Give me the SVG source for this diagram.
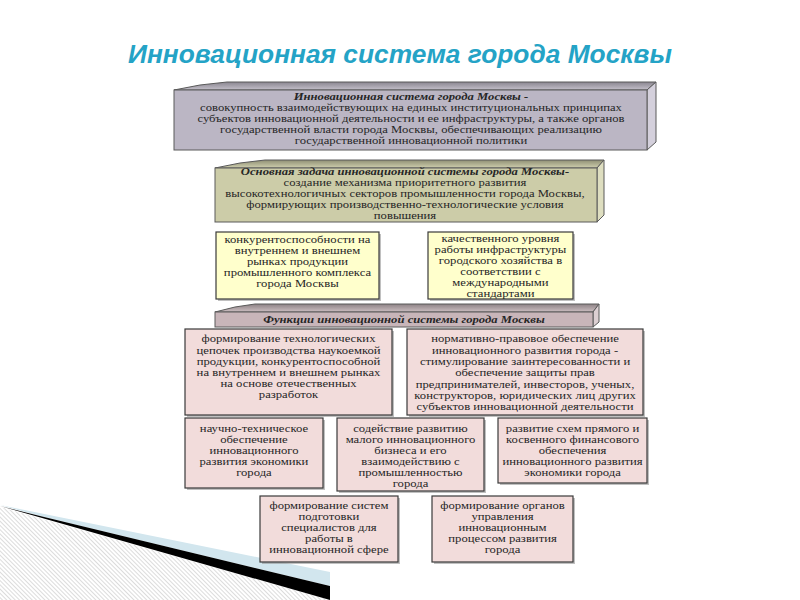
<svg xmlns="http://www.w3.org/2000/svg" width="800" height="600" viewBox="0 0 800 600">
<defs>
<style>
.t{font-family:"Liberation Serif","Times New Roman",Times,"DejaVu Serif",serif;font-size:9.9px;fill:#262626;text-anchor:middle}
.b{font-weight:bold;font-style:italic}
.edge{stroke:#5a5a5a;stroke-width:1}
.box{stroke:#3a3a3a;stroke-width:1.2}
.sh{fill:#8c8c8c;opacity:.55}
.yel{fill:#FFFFCC}
.pink{fill:#F2DCDB}
</style>
<pattern id="hatch" patternUnits="userSpaceOnUse" width="3" height="3" patternTransform="rotate(-45)">
<rect width="3" height="3" fill="#ffffff"/>
<rect width="1" height="3" fill="#dcdcdc"/>
</pattern>
<linearGradient id="gTop1" x1="0" y1="0" x2="0" y2="1"><stop offset="0" stop-color="#8a8690"/><stop offset="1" stop-color="#c4c0ca"/></linearGradient>
<linearGradient id="gTop2" x1="0" y1="0" x2="0" y2="1"><stop offset="0" stop-color="#8f8f74"/><stop offset="1" stop-color="#cfcfae"/></linearGradient>
<linearGradient id="gTop4" x1="0" y1="0" x2="0" y2="1"><stop offset="0" stop-color="#8d8285"/><stop offset="1" stop-color="#cdbfc2"/></linearGradient>
</defs>
<rect width="800" height="600" fill="#ffffff"/>

<g id="corner">
<polygon points="0,507 330,600 0,600" fill="url(#hatch)"/>
<polygon points="0,505 330,572 330,586 40,516" fill="#d2e6ee"/>
<polygon points="0,506 40,516 330,586 330,600" fill="#000000"/>
</g>

<text x="400" y="63" font-family="'Liberation Sans',Arial,sans-serif" font-size="25" font-weight="bold" font-style="italic" fill="#24A3C6" text-anchor="middle" textLength="544" lengthAdjust="spacingAndGlyphs">Инновационная система города Москвы</text>

<g id="connectors"/>

<g id="definition">
<polygon points="174,90 200,85 227,82 656,82 647,90" fill="url(#gTop1)" class="edge"/>
<polygon points="647,90 656,82 656,142 647,150" fill="#d4d0dc" class="edge"/>
<rect x="174" y="90" width="473" height="60" fill="#BBB6C4" class="edge"/>
<g transform="scale(1.28,1)">
<text class="t b" x="321.1" y="100">Инновационная система города Москвы -</text>
<text class="t" x="321.1" y="111">совокупность взаимодействующих на единых институциональных принципах</text>
<text class="t" x="321.1" y="122">субъектов инновационной деятельности и ее инфраструктуры, а также органов</text>
<text class="t" x="321.1" y="133">государственной власти города Москвы, обеспечивающих реализацию</text>
<text class="t" x="321.1" y="144">государственной инновационной политики</text>
</g>
</g>

<g id="main-task">
<polygon points="215,168 240,163 265,160 604,160 597,168" fill="url(#gTop2)" class="edge"/>
<polygon points="597,168 604,160 604,215 597,222" fill="#dedec0" class="edge"/>
<rect x="215" y="168" width="382" height="54" fill="#CCCCA8" class="edge"/>
<g transform="scale(1.28,1)">
<text class="t b" x="316.4" y="175.5">Основная задача инновационной системы города Москвы-</text>
<text class="t" x="316.4" y="186.5">создание механизма приоритетного развития</text>
<text class="t" x="316.4" y="197.5">высокотехнологичных секторов промышленности города Москвы,</text>
<text class="t" x="316.4" y="208.5">формирующих производственно-технологические условия</text>
<text class="t" x="316.4" y="219.5">повышения</text>
</g>
</g>

<g id="competitiveness">
<rect x="218" y="234" width="163" height="67" class="sh"/>
<rect x="216" y="232" width="163" height="67" class="yel box"/>
<g transform="scale(1.28,1)">
<text class="t" x="232.4" y="243">конкурентоспособности на</text>
<text class="t" x="232.4" y="254">внутреннем и внешнем</text>
<text class="t" x="232.4" y="265">рынках продукции</text>
<text class="t" x="232.4" y="276">промышленного комплекса</text>
<text class="t" x="232.4" y="287">города Москвы</text>
</g>
</g>

<g id="quality">
<rect x="430" y="234" width="145" height="67" class="sh"/>
<rect x="428" y="232" width="145" height="67" class="yel box"/>
<g transform="scale(1.28,1)">
<text class="t" x="391" y="242">качественного уровня</text>
<text class="t" x="391" y="253">работы инфраструктуры</text>
<text class="t" x="391" y="264">городского хозяйства в</text>
<text class="t" x="391" y="275">соответствии с</text>
<text class="t" x="391" y="286">международными</text>
<text class="t" x="391" y="297">стандартами</text>
</g>
</g>

<g id="functions">
<polygon points="215,312 235,307 255,304 599,304 593,312" fill="url(#gTop4)" class="edge"/>
<polygon points="593,312 599,304 599,322 593,327" fill="#dccfd2" class="edge"/>
<rect x="215" y="312" width="378" height="15" fill="#C8B5B9" class="edge"/>
<g transform="scale(1.28,1)">
<text class="t b" x="315.6" y="323">Функции инновационной системы города Москвы</text>
</g>
</g>

<g id="f-chains">
<rect x="187" y="331" width="207" height="86" class="sh"/>
<rect x="185" y="329" width="207" height="86" class="pink box"/>
<g transform="scale(1.28,1)">
<text class="t" x="225.4" y="342.5">формирование технологических</text>
<text class="t" x="225.4" y="353.7">цепочек производства наукоемкой</text>
<text class="t" x="225.4" y="364.9">продукции, конкурентоспособной</text>
<text class="t" x="225.4" y="376.1">на внутреннем и внешнем рынках</text>
<text class="t" x="225.4" y="387.3">на основе отечественных</text>
<text class="t" x="225.4" y="398.5">разработок</text>
</g>
</g>

<g id="f-legal">
<rect x="409" y="331" width="236" height="86" class="sh"/>
<rect x="407" y="329" width="236" height="86" class="pink box"/>
<g transform="scale(1.28,1)">
<text class="t" x="410.2" y="342.5">нормативно-правовое обеспечение</text>
<text class="t" x="410.2" y="353.8">инновационного развития города -</text>
<text class="t" x="410.2" y="365.1">стимулирование заинтересованности и</text>
<text class="t" x="410.2" y="376.4">обеспечение защиты прав</text>
<text class="t" x="410.2" y="387.7">предпринимателей, инвесторов, ученых,</text>
<text class="t" x="410.2" y="399">конструкторов, юридических лиц других</text>
<text class="t" x="410.2" y="410.3">субъектов инновационной деятельности</text>
</g>
</g>

<g id="f-science">
<rect x="187" y="420" width="138" height="70" class="sh"/>
<rect x="185" y="418" width="138" height="70" class="pink box"/>
<g transform="scale(1.28,1)">
<text class="t" x="198.4" y="432">научно-техническое</text>
<text class="t" x="198.4" y="443">обеспечение</text>
<text class="t" x="198.4" y="454">инновационного</text>
<text class="t" x="198.4" y="465">развития экономики</text>
<text class="t" x="198.4" y="476">города</text>
</g>
</g>

<g id="f-business">
<rect x="339" y="420" width="147" height="73" class="sh"/>
<rect x="337" y="418" width="147" height="73" class="pink box"/>
<g transform="scale(1.28,1)">
<text class="t" x="320.7" y="432">содействие развитию</text>
<text class="t" x="320.7" y="443">малого инновационного</text>
<text class="t" x="320.7" y="454">бизнеса и его</text>
<text class="t" x="320.7" y="465">взаимодействию с</text>
<text class="t" x="320.7" y="476">промышленностью</text>
<text class="t" x="320.7" y="487">города</text>
</g>
</g>

<g id="f-finance">
<rect x="500" y="420" width="149" height="65" class="sh"/>
<rect x="498" y="418" width="149" height="65" class="pink box"/>
<g transform="scale(1.28,1)">
<text class="t" x="447.3" y="432">развитие схем прямого и</text>
<text class="t" x="447.3" y="443">косвенного финансового</text>
<text class="t" x="447.3" y="454">обеспечения</text>
<text class="t" x="447.3" y="465">инновационного развития</text>
<text class="t" x="447.3" y="476">экономики города</text>
</g>
</g>

<g id="f-training">
<rect x="262" y="498" width="138" height="66" class="sh"/>
<rect x="260" y="496" width="138" height="66" class="pink box"/>
<g transform="scale(1.28,1)">
<text class="t" x="257" y="509">формирование систем</text>
<text class="t" x="257" y="520">подготовки</text>
<text class="t" x="257" y="531">специалистов для</text>
<text class="t" x="257" y="542">работы в</text>
<text class="t" x="257" y="553">инновационной сфере</text>
</g>
</g>

<g id="f-management">
<rect x="434" y="498" width="141" height="66" class="sh"/>
<rect x="432" y="496" width="141" height="66" class="pink box"/>
<g transform="scale(1.28,1)">
<text class="t" x="392.6" y="509">формирование органов</text>
<text class="t" x="392.6" y="520">управления</text>
<text class="t" x="392.6" y="531">инновационным</text>
<text class="t" x="392.6" y="542">процессом развития</text>
<text class="t" x="392.6" y="553">города</text>
</g>
</g>
</svg>
